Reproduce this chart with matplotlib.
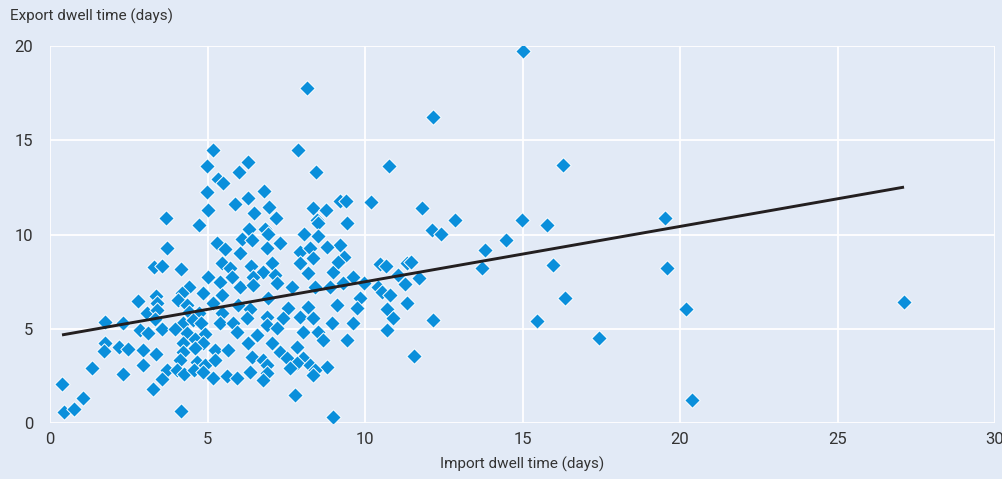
import numpy as np
import matplotlib.pyplot as plt

# Dwell times (days)
import_days = [
    4.41, 4.19, 4.86, 2.79, 3.37, 3.40, 4.06, 4.35, 3.08, 3.40,
    4.41, 4.73, 1.75, 2.32, 3.33, 4.22, 4.54, 4.79, 2.86, 3.11,
    3.56, 3.97, 4.35, 4.92, 1.75, 1.71, 2.19, 2.48, 2.95, 3.37,
    4.22, 4.60, 4.86, 4.22, 4.60, 1.33, 2.95, 2.32, 4.13, 4.67,
    4.92, 3.71, 4.03, 4.25, 4.57, 3.56, 3.27, 0.38, 1.05, 0.44,
    0.76, 4.16, 4.98, 4.98, 5.02, 3.68, 4.73, 3.71, 3.30, 3.56,
    4.16, 5.02, 5.17, 7.87, 6.29, 6.00, 8.44, 5.33, 5.49, 6.79,
    6.29, 5.87, 6.95, 6.48, 8.35, 8.76, 9.21, 9.40, 10.19, 7.17,
    8.48, 8.51, 9.43, 6.32, 6.83, 6.92, 8.06, 8.51, 5.30, 6.10,
    6.41, 7.30, 9.21, 5.56, 6.03, 6.89, 7.94, 8.25, 8.79, 8.35,
    9.33, 5.46, 5.71, 7.05, 7.94, 6.38, 6.76, 8.98, 9.14, 5.78,
    6.44, 7.14, 8.19, 9.62, 5.40, 6.03, 6.44, 7.21, 7.68, 8.41,
    8.89, 9.30, 9.97, 5.46, 6.92, 9.84, 5.17, 5.97, 6.35, 7.56,
    8.19, 9.11, 9.75, 5.46, 6.25, 6.89, 7.40, 7.94, 8.35, 5.40,
    5.81, 6.89, 8.95, 9.62, 5.94, 6.57, 7.21, 8.03, 8.51, 6.29,
    7.05, 8.67, 9.43, 5.24, 5.65, 7.84, 7.30, 6.41, 6.76, 7.52,
    8.03, 5.24, 6.89, 7.84, 8.25, 8.79, 4.86, 5.17, 5.62, 5.94,
    6.35, 6.89, 6.76, 7.62, 8.41, 8.35, 7.78, 8.98, 12.16, 10.76,
    16.29, 11.81, 12.86, 14.98, 15.78, 12.13, 12.41, 14.48, 13.81, 13.71,
    15.97, 10.48, 10.67, 11.33, 11.46, 11.71, 11.05, 11.27, 10.41, 10.54,
    10.79, 11.33, 10.70, 10.89, 12.16, 10.70, 11.56, 16.35, 15.46, 19.52,
    19.59, 20.19, 17.43, 20.38, 27.11, 15.02, 8.16,
]
export_days = [
    7.23, 6.92, 6.92, 6.49, 6.76, 6.39, 6.54, 6.28, 5.86, 6.01,
    5.91, 5.86, 5.38, 5.33, 5.54, 5.33, 5.48, 5.33, 4.95, 4.80,
    5.01, 5.01, 4.80, 4.74, 4.27, 3.84, 4.05, 3.95, 3.90, 3.68,
    4.27, 4.48, 4.27, 3.79, 4.00, 2.94, 3.10, 2.62, 3.37, 3.26,
    3.10, 2.84, 2.84, 2.62, 2.84, 2.36, 1.83, 2.09, 1.35, 0.61,
    0.77, 0.66, 13.65, 12.27, 11.31, 10.89, 10.52, 9.30, 8.29, 8.35,
    8.19, 7.76, 14.49, 14.49, 13.86, 13.33, 13.33, 12.96, 12.74, 12.32,
    11.95, 11.63, 11.47, 11.16, 11.42, 11.31, 11.79, 11.79, 11.74, 10.89,
    10.78, 10.63, 10.63, 10.31, 10.31, 10.04, 10.04, 9.94, 9.57, 9.78,
    9.72, 9.57, 9.46, 9.25, 9.04, 9.30, 9.09, 9.30, 9.35, 8.77,
    8.82, 8.51, 8.24, 8.51, 8.51, 8.35, 8.03, 8.03, 8.56, 7.76,
    7.76, 7.87, 7.98, 7.76, 7.50, 7.23, 7.34, 7.45, 7.23, 7.23,
    7.23, 7.45, 7.45, 6.81, 6.65, 6.65, 6.39, 6.28, 6.07, 6.12,
    6.17, 6.28, 6.12, 5.86, 5.59, 5.64, 5.59, 5.64, 5.59, 5.33,
    5.33, 5.22, 5.33, 5.33, 4.85, 4.69, 5.06, 4.85, 4.85, 4.27,
    4.27, 4.43, 4.43, 3.90, 3.90, 4.05, 3.79, 3.52, 3.37, 3.47,
    3.47, 3.37, 3.10, 3.21, 3.10, 2.99, 2.73, 2.41, 2.52, 2.41,
    2.73, 2.68, 2.31, 2.94, 2.84, 2.57, 1.51, 0.34, 16.24, 13.65,
    13.70, 11.42, 10.78, 10.78, 10.52, 10.25, 10.04, 9.72, 9.19, 8.24,
    8.40, 8.45, 8.35, 8.51, 8.56, 7.71, 7.87, 7.39, 7.23, 6.97,
    6.81, 6.39, 6.07, 5.59, 5.48, 4.95, 3.58, 6.65, 5.43, 10.89,
    8.24, 6.07, 4.53, 1.25, 6.44, 19.74, 17.78,
]

# Fitted trend line
trend_intercept = 4.58
trend_slope = 0.293

bg = '#e2eaf6'
blue = '#0a8fdb'
text_col = '#333333'

plt.rcParams['font.family'] = ['Roboto', 'DejaVu Sans']

fig = plt.figure(figsize=(10.03, 4.79), dpi=100, facecolor=bg)
ax = fig.add_axes([0.0499, 0.1159, 0.9422, 0.7881])
ax.set_facecolor(bg)

ax.scatter(import_days, export_days, marker='D', s=62, color=blue,
           edgecolor='white', linewidth=0.7, zorder=3)

line_x = np.array([min(import_days), max(import_days)])
ax.plot(line_x, trend_intercept + trend_slope * line_x, color='#231f20',
        linewidth=2.1, zorder=4, solid_capstyle='butt')

ax.set_xlim(0, 30)
ax.set_ylim(0, 20)
ax.set_xticks([0, 5, 10, 15, 20, 25, 30])
ax.set_yticks([0, 5, 10, 15, 20])
ax.grid(True, color='white', linewidth=1.3)
ax.set_axisbelow(True)
for s in ax.spines.values():
    s.set_visible(False)
ax.tick_params(length=0, labelsize=12, labelcolor=text_col)
ax.tick_params(axis='x', pad=6)
ax.tick_params(axis='y', pad=12)

ax.set_xlabel('Import dwell time (days)', fontsize=11, color=text_col, labelpad=7)
fig.text(0.01, 0.965, 'Export dwell time (days)', fontsize=11, color=text_col,
         ha='left', va='center')

fig.savefig('out.png', dpi=100, facecolor=bg)
